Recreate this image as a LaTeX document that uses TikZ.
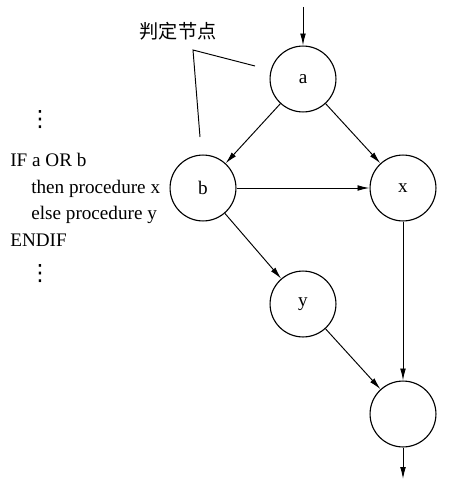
\documentclass[tikz,border=0pt]{standalone}
\usepackage{fontspec}
\setmainfont{Liberation Serif}
\newfontfamily\cjk{Noto Sans CJK SC}
\newfontfamily\symfont{DejaVu Sans}
\usetikzlibrary{arrows.meta}
\begin{document}
\begin{tikzpicture}[
    x=0.022cm,y=-0.022cm,
    flowNode/.style={draw=black,circle,line width=0.7pt,minimum size=1.45cm,inner sep=0pt,font=\fontsize{12}{14}\selectfont},
    flowArrow/.style={-{Latex[length=7.5pt,width=3.6pt]},line width=0.6pt},
    codeText/.style={anchor=base west,inner sep=0pt,font=\fontsize{12}{14}\selectfont},
    dotsText/.style={inner sep=0pt,font=\symfont\fontsize{14}{16}\selectfont},
]
\useasboundingbox (0,0) rectangle (458,487);
\node[flowNode] (A) at (303,79) {a};
\node[flowNode] (B) at (203,188) {b};
\node[flowNode] (X) at (403,188) {x};
\node[flowNode] (Y) at (303,304) {y};
\node[flowNode] (END) at (403,414) {};
\coordinate (IN) at (303,7);
\coordinate (OUT) at (403,479);
\draw[flowArrow] (IN) -- (A);
\draw[flowArrow] (A) -- (B);
\draw[flowArrow] (A) -- (X);
\draw[flowArrow] (B) -- (X);
\draw[flowArrow] (B) -- (Y);
\draw[flowArrow] (Y) -- (END);
\draw[flowArrow] (X) -- (END);
\draw[flowArrow] (END) -- (OUT);
% decision node label
\node[font=\cjk\fontsize{12}{14}\selectfont] (LBL) at (178,31) {判定节点};
\coordinate (KNEE) at (193,50);
\coordinate (TIPA) at (255,66);
\coordinate (TIPB) at (200,137);
\draw[line width=0.6pt] (TIPA) -- (KNEE) -- (TIPB);
% code fragment
\node[dotsText] (DOTS1) at (40,120) {⋮};
\node[codeText] (IF) at (10,166.5) {IF a OR b};
\node[codeText] (THEN) at (31,193) {then procedure x};
\node[codeText] (ELSE) at (31,219.5) {else procedure y};
\node[codeText] (ENDIF) at (10,246) {ENDIF};
\node[dotsText] (DOTS2) at (40,274) {⋮};
\end{tikzpicture}
\end{document}
